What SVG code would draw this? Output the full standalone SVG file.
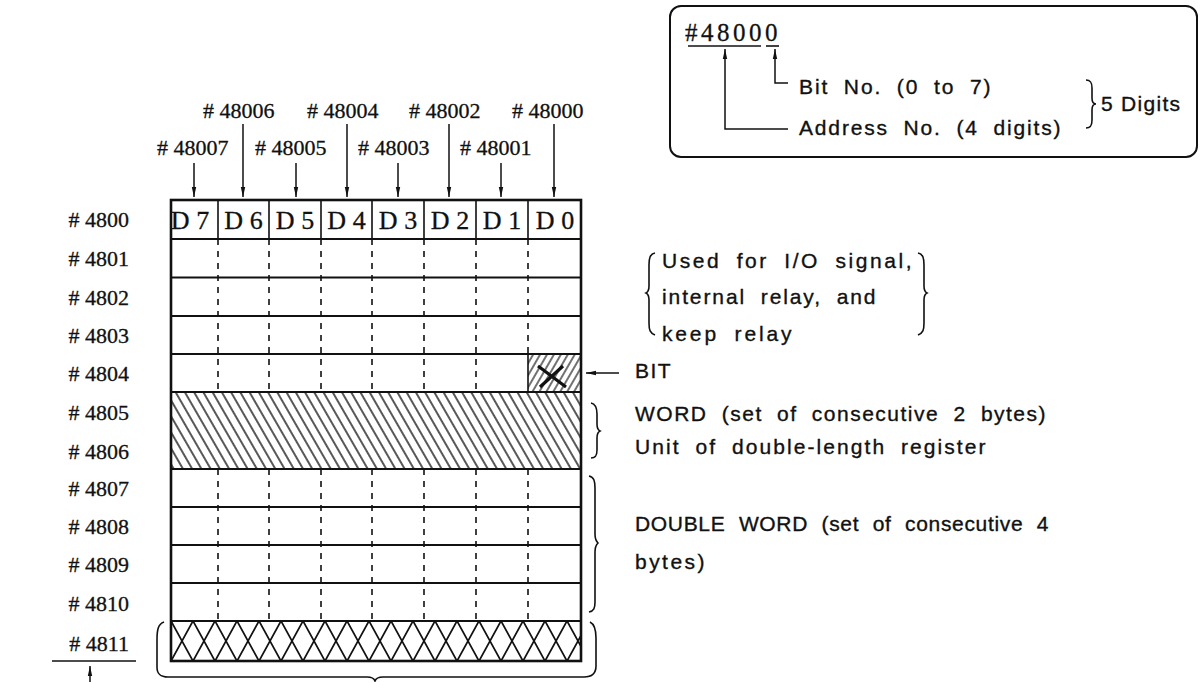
<svg xmlns="http://www.w3.org/2000/svg" width="1202" height="682" viewBox="0 0 1202 682">
<style>
.serif{font-family:"Liberation Serif","Times New Roman",serif;fill:#111;stroke:#111;stroke-width:0.3}
.sans{font-family:"Liberation Sans",Arial,sans-serif;fill:#111;font-size:21px;letter-spacing:1.5px;word-spacing:7px;stroke:#111;stroke-width:0.35}
.lbl{font-size:22px}
.rl{font-size:22px;text-anchor:end}
.dl{font-size:26px;text-anchor:middle}
.ln{stroke:#111;fill:none}
.dash{stroke:#111;stroke-width:1.6;stroke-dasharray:6 6;fill:none}
.arr{stroke:#111;stroke-width:1.5;fill:none;marker-end:url(#ah)}
.br{stroke:#111;stroke-width:1.6;fill:none}
</style>
<defs>
<marker id="ah" markerUnits="userSpaceOnUse" markerWidth="11" markerHeight="6" refX="10" refY="3" orient="auto"><path d="M0,0.8 L10,3 L0,5.2 z" fill="#111"/></marker>
<pattern id="hw" patternUnits="userSpaceOnUse" width="8" height="8" patternTransform="rotate(-30)"><line x1="4" y1="-1" x2="4" y2="9" stroke="#111" stroke-width="1.4"/></pattern>
<pattern id="hb" patternUnits="userSpaceOnUse" width="6" height="6" patternTransform="rotate(30)"><line x1="3" y1="-1" x2="3" y2="7" stroke="#111" stroke-width="1.2"/></pattern>
<pattern id="hx" patternUnits="userSpaceOnUse" x="171" y="621" width="22" height="40"><path d="M0,0 L22,40 M22,0 L0,40" stroke="#111" stroke-width="1.8" fill="none"/></pattern>
</defs>
<rect width="1202" height="682" fill="#fff"/>

<g id="address-format">
<rect x="670" y="6" width="527" height="151" rx="11" class="ln" stroke-width="2"/>
<text x="685" y="41" class="serif" font-size="25" letter-spacing="3.5">#48000</text>
<line x1="688" y1="46" x2="761" y2="46" class="ln" stroke-width="1.6"/>
<line x1="766" y1="46" x2="779" y2="46" class="ln" stroke-width="1.6"/>
<text x="799" y="94" class="sans" textLength="193" lengthAdjust="spacing">Bit No. (0 to 7)</text>
<text x="799" y="135" class="sans" textLength="263" lengthAdjust="spacing">Address No. (4 digits)</text>
<path d="M1086,80 C1091,80 1092,83 1092,88 L1092,98 C1092,102 1093,104 1096,104 C1093,104 1092,106 1092,110 L1092,120 C1092,125 1091,128 1086,128" class="br"/>
<text x="1101" y="111" class="sans" style="letter-spacing:0;word-spacing:0" textLength="79" lengthAdjust="spacing">5 Digits</text>
</g>

<g id="bit-labels">
<text x="203" y="118" class="serif lbl">#  48006</text>
<text x="307" y="118" class="serif lbl">#  48004</text>
<text x="409" y="118" class="serif lbl">#  48002</text>
<text x="512" y="118" class="serif lbl">#  48000</text>
<text x="157" y="155" class="serif lbl">#  48007</text>
<text x="255" y="155" class="serif lbl">#  48005</text>
<text x="358" y="155" class="serif lbl">#  48003</text>
<text x="460" y="155" class="serif lbl">#  48001</text>
</g>

<g id="grid">
<rect x="171" y="392" width="410" height="77" fill="url(#hw)"/>
<rect x="528" y="354" width="53" height="38" fill="url(#hb)"/>
<rect x="171" y="621" width="410" height="40" fill="url(#hx)"/>
<path d="M218,200V239 M269,200V239 M321,200V239 M372,200V239 M424,200V239 M476,200V239 M528,200V239 M528,354V392" class="ln" stroke-width="1.6"/>
<path d="M218,239V392 M269,239V392 M321,239V392 M372,239V392 M424,239V392 M476,239V392 M528,239V354 M218,469V621 M269,469V621 M321,469V621 M372,469V621 M424,469V621 M476,469V621 M528,469V621" class="dash"/>
<path d="M171,239H581 M171,277.5H581 M171,316H581 M171,354H581 M171,392H581 M171,469H581 M171,507H581 M171,545H581 M171,583H581 M171,621H581" class="ln" stroke-width="2.2"/>
<rect x="171" y="200" width="410" height="461" class="ln" stroke-width="2.6"/>
<path d="M538,366 L566,387 M540,387 L563,366" class="ln" stroke-width="3.2"/>
<text x="190" y="229" class="serif dl">D 7</text>
<text x="243.5" y="229" class="serif dl">D 6</text>
<text x="295" y="229" class="serif dl">D 5</text>
<text x="346.5" y="229" class="serif dl">D 4</text>
<text x="398" y="229" class="serif dl">D 3</text>
<text x="450" y="229" class="serif dl">D 2</text>
<text x="502" y="229" class="serif dl">D 1</text>
<text x="555" y="229" class="serif dl">D 0</text>
</g>

<g id="row-labels">
<text x="129" y="227" class="serif rl"># 4800</text>
<text x="129" y="266" class="serif rl"># 4801</text>
<text x="129" y="305" class="serif rl"># 4802</text>
<text x="129" y="343" class="serif rl"># 4803</text>
<text x="129" y="381" class="serif rl"># 4804</text>
<text x="129" y="420" class="serif rl"># 4805</text>
<text x="129" y="459" class="serif rl"># 4806</text>
<text x="129" y="496" class="serif rl"># 4807</text>
<text x="129" y="534" class="serif rl"># 4808</text>
<text x="129" y="572" class="serif rl"># 4809</text>
<text x="129" y="611" class="serif rl"># 4810</text>
<text x="129" y="651" class="serif rl"># 4811</text>
<line x1="52" y1="661" x2="136" y2="661" class="ln" stroke-width="1.6"/>
</g>

<g id="annotations">
<path d="M655,253 C650,254 649,258 649,265 L649,286 C649,290 648,292 646,293 C648,294 649,296 649,300 L649,323 C649,330 650,333 655,335" class="br"/>
<path d="M918,253 C923,254 924,258 924,265 L924,286 C924,290 925,292 927,293 C925,294 924,296 924,300 L924,323 C924,330 923,333 918,335" class="br"/>
<text x="662" y="268" class="sans" textLength="251" lengthAdjust="spacing">Used for I/O signal,</text>
<text x="662" y="304" class="sans" textLength="215" lengthAdjust="spacing">internal relay, and</text>
<text x="662" y="341" class="sans" textLength="131" lengthAdjust="spacing">keep relay</text>
<text x="635" y="378" class="sans" textLength="37" lengthAdjust="spacing">BIT</text>
<path d="M591,403 C596,404 597,408 597,414 L597,424 C597,428 598,430 600,431 C598,432 597,434 597,438 L597,450 C597,455 596,458 591,458" class="br"/>
<text x="635" y="421" class="sans" textLength="412" lengthAdjust="spacing">WORD (set of consecutive 2 bytes)</text>
<text x="635" y="454" class="sans" textLength="352" lengthAdjust="spacing">Unit of double-length register</text>
<path d="M589,476 C594,477 595,481 595,488 L595,534 C595,539 596,541 598,543 C596,545 595,547 595,552 L595,602 C595,608 594,611 589,612" class="br"/>
<text x="635" y="531" class="sans" textLength="415" lengthAdjust="spacing">DOUBLE WORD (set of consecutive 4</text>
<text x="635" y="569" class="sans" textLength="71" lengthAdjust="spacing">bytes)</text>
<path d="M164,622 C158,624 157,630 157,640 L157,667 C157,674 160,677 168,677 L367,677 C372,677 374,678 375,681 C376,678 378,677 383,677 L584,677 C592,677 596,673 596,666 L596,638 C596,629 594,624 590,622" class="br"/>
</g>

<g id="connectors">
<line x1="194" y1="163" x2="194" y2="197" class="arr"/>
<line x1="243" y1="124" x2="243" y2="197" class="arr"/>
<line x1="296" y1="163" x2="296" y2="197" class="arr"/>
<line x1="347" y1="124" x2="347" y2="197" class="arr"/>
<line x1="398" y1="163" x2="398" y2="197" class="arr"/>
<line x1="449" y1="124" x2="449" y2="197" class="arr"/>
<line x1="501" y1="163" x2="501" y2="197" class="arr"/>
<line x1="554" y1="124" x2="554" y2="197" class="arr"/>
<line x1="619" y1="373" x2="586" y2="373" class="arr"/>
<polyline points="788,83 775,83 775,49" class="arr"/>
<polyline points="788,129 725,129 725,49" class="arr"/>
<line x1="90" y1="682" x2="90" y2="666" class="arr"/>
</g>
</svg>
